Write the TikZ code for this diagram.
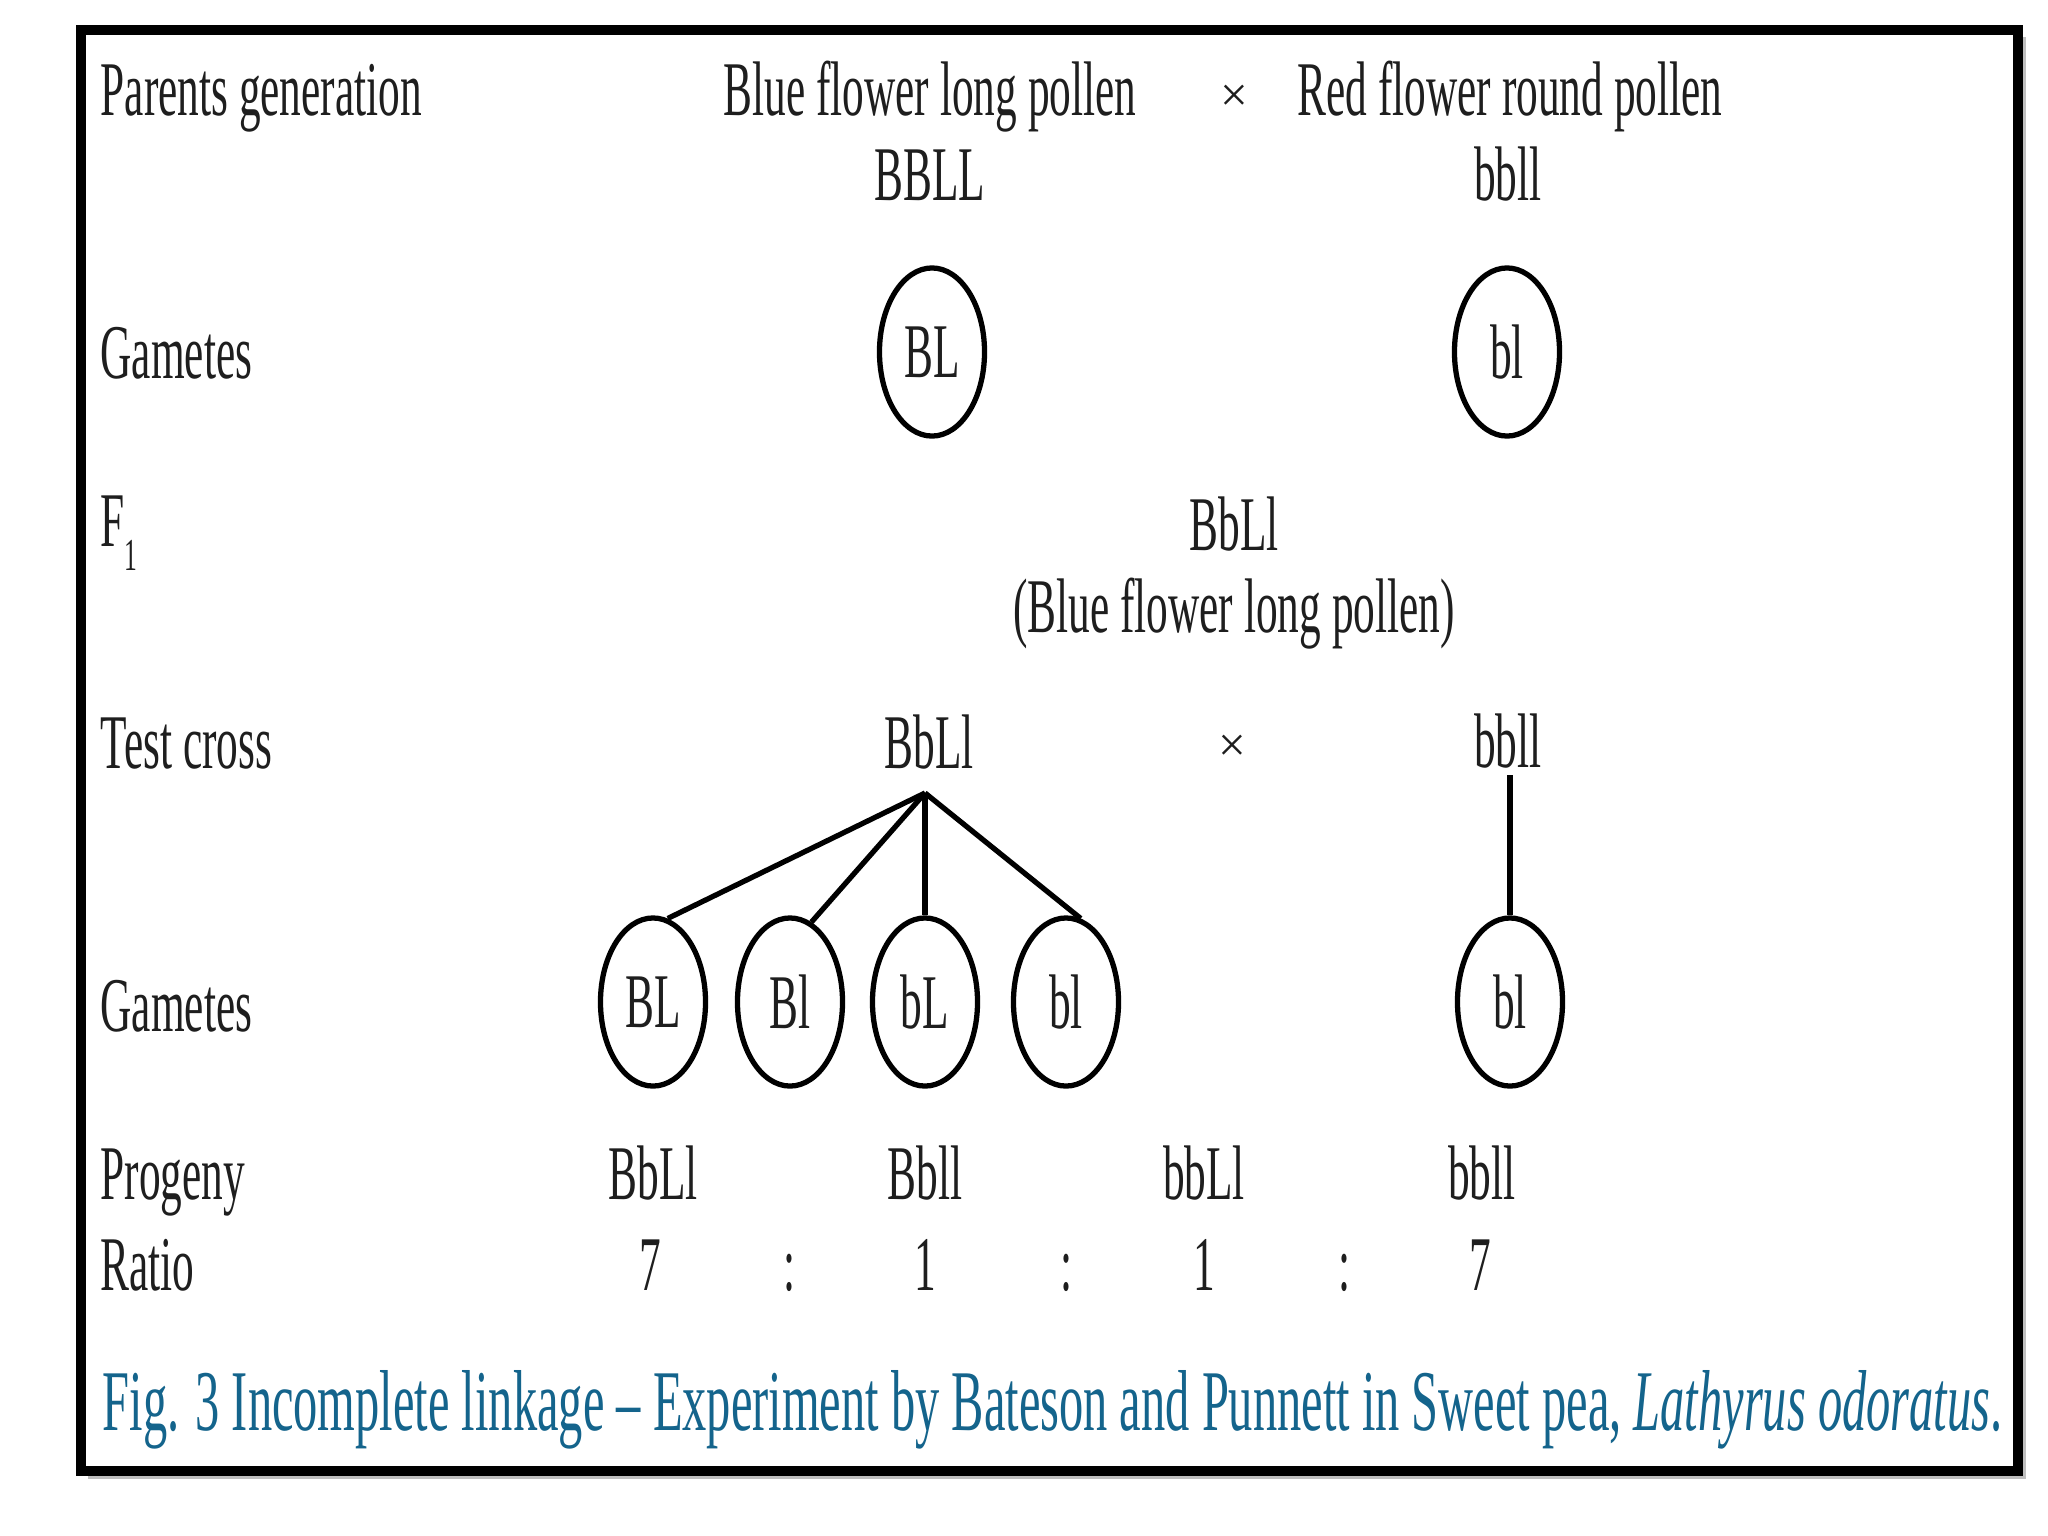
\documentclass[tikz,border=0pt]{standalone}
\usepackage{fontspec}
\setmainfont{Liberation Serif}[FakeStretch=0.56]
\newfontfamily\plainserif{Liberation Serif}
\usetikzlibrary{shapes.geometric}
\definecolor{captc}{RGB}{20,100,140}
\definecolor{inkc}{RGB}{30,30,30}
\tikzset{
 lbl/.style={anchor=base west, inner sep=0, text=inkc, font=\fontsize{22}{26}\selectfont},
 txt/.style={anchor=base, inner sep=0, text=inkc, font=\fontsize{22}{26}\selectfont},
 gam/.style={draw, ellipse, line width=1.5pt, minimum width=1.05cm, minimum height=1.68cm, inner sep=0, text=inkc, font=\fontsize{22}{26}\selectfont},
 link/.style={line width=1.5pt},
 crossmark/.style={anchor=center, inner sep=0, text=inkc, font=\plainserif\fontsize{14}{16}\selectfont},
 capt/.style={anchor=base west, inner sep=0, text=captc, font=\fontsize{24.6}{28}\selectfont},
}
\begin{document}
\begin{tikzpicture}[x=0.01cm,y=-0.01cm]
\useasboundingbox (0,0) rectangle (2048,1536);
\fill[white] (0,0) rectangle (2048,1536);
\fill[black!25] (88,37) rectangle (2026,1479);
\draw[line width=2.6pt, fill=white] (81,30) rectangle (2018,1471);
% row 1
\node[lbl] (pg) at (100,115) {Parents generation};
\node[txt] (p1) at (930,115) {Blue flower long pollen};
\node[crossmark] (x1) at (1234,98) {×};
\node[txt] (p2) at (1510,115) {Red flower round pollen};
\node[txt] (g1) at (930,200) {BBLL};
\node[txt] (g2) at (1508,200) {bbll};
% gametes 1
\node[lbl] (gm1) at (100,378) {Gametes};
\node[gam] (c1) at (932,352) {BL};
\node[gam] (c2) at (1507,352) {bl};
% F1
\node[lbl] (f1) at (100,546) {F\raisebox{-7pt}{\fontsize{13}{15}\selectfont 1}};
\node[txt] (f1g) at (1234,550) {BbLl};
\node[txt] (f1p) at (1234,632) {(Blue flower long pollen)};
% test cross
\node[lbl] (tc) at (100,768) {Test cross};
\node[txt] (tc1) at (929,768) {BbLl};
\node[crossmark] (x2) at (1232,748) {×};
\node[txt] (tc2) at (1508,767) {bbll};
\coordinate (apex) at (925,793);
\coordinate (top2) at (1510,775);
% gametes 2
\node[lbl] (gm2) at (100,1031) {Gametes};
\node[gam] (d1) at (653,1002) {BL};
\node[gam] (d2) at (790,1002) {Bl};
\node[gam] (d3) at (925,1002) {bL};
\node[gam] (d4) at (1066,1002) {bl};
\node[gam] (d5) at (1510,1002) {bl};
\draw[link] (apex) -- (d1.80);
\draw[link] (apex) -- (d2.75);
\draw[link] (apex) -- (d3.north);
\draw[link] (apex) -- (d4.80);
\draw[link] (top2) -- (d5.north);
% progeny
\node[lbl] (pr) at (100,1199) {Progeny};
\node[txt] (pr1) at (653,1199) {BbLl};
\node[txt] (pr2) at (925,1199) {Bbll};
\node[txt] (pr3) at (1204,1199) {bbLl};
\node[txt] (pr4) at (1482,1199) {bbll};
% ratio
\node[lbl] (ra) at (100,1290) {Ratio};
\node[txt] (r1) at (650,1290) {7};
\node[txt] (s1) at (790,1290) {:};
\node[txt] (r2) at (925,1290) {1};
\node[txt] (s2) at (1067,1290) {:};
\node[txt] (r3) at (1204,1290) {1};
\node[txt] (s3) at (1345,1290) {:};
\node[txt] (r4) at (1480,1290) {7};
% caption
\node[capt] (cap) at (102,1430) {Fig. 3 Incomplete linkage – Experiment by Bateson and Punnett in Sweet pea, \textit{Lathyrus odoratus}.};
\end{tikzpicture}
\end{document}
